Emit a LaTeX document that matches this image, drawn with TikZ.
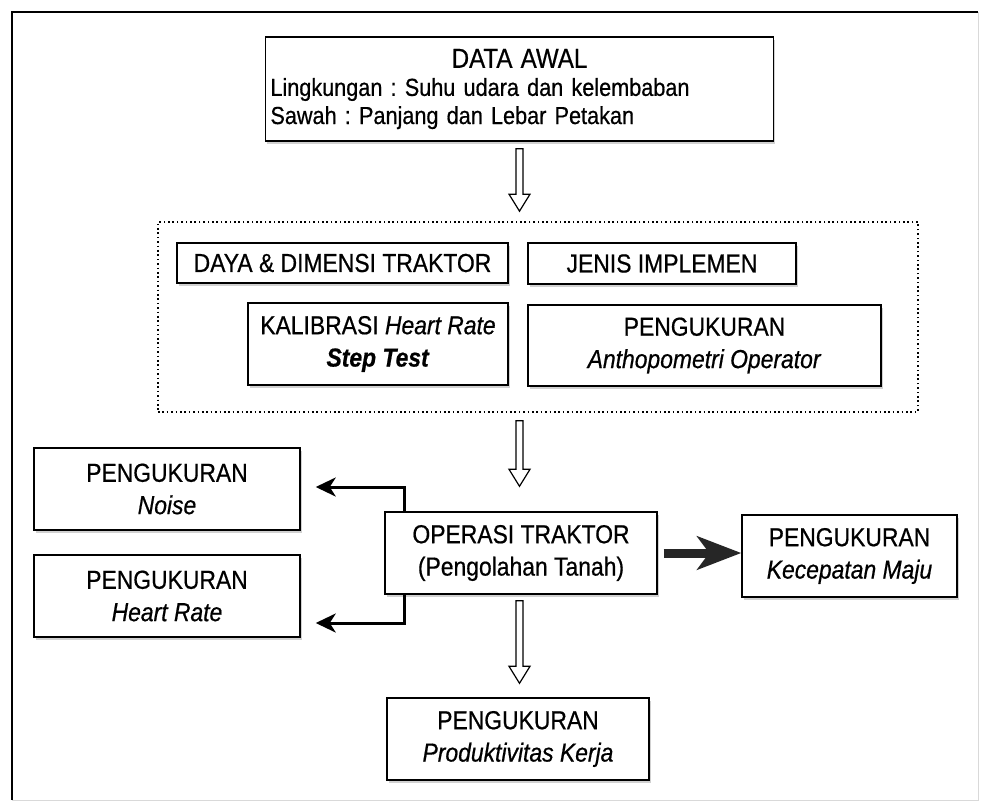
\documentclass[tikz,border=0pt]{standalone}
\usepackage{fontspec}
\setmainfont{Liberation Sans}[FakeStretch=0.88, FakeBold=0.6]
\usetikzlibrary{calc,arrows.meta,shadows}
\frenchspacing
\def\hollowarrow(#1)(#2){\draw[line width=0.3mm, fill=white] ($(#1)+(-3.5,0)$) -- ($(#2)+(-3.5,-17)$) -- ($(#2)+(-10.5,-17)$) -- (#2) -- ($(#2)+(10.5,-17)$) -- ($(#2)+(3.5,-17)$) -- ($(#1)+(3.5,0)$) -- cycle;}
\tikzset{
	flowbox/.style={draw, line width=0.35mm, fill=white, align=center, font=\fontsize{18.5}{23}\selectfont, drop shadow={shadow xshift=0.4mm, shadow yshift=-0.8mm, fill=black!18, opacity=1}},
	linkarrow/.style={line width=0.75mm, -{Stealth[length=5mm, width=4.75mm, inset=1.5mm]}},
}

\begin{document}
\begin{tikzpicture}[x=0.025cm, y=-0.025cm]
		%%%%% START %%%%%
		\useasboundingbox (0, 0) rectangle (981, 804);
		\draw[line width=0.2mm, color=black!15] (12, 12) rectangle (978, 800);
		\draw[line width=0.5mm] (978, 12) -- (12, 12) -- (12, 800);
		
		\node[flowbox, text width=12.45cm, align=left, minimum height=2.6cm, font=\fontsize{17.5}{20}\selectfont] (data) at (519.5, 89) {\makebox[\linewidth]{\fontsize{19.5}{20}\selectfont DATA AWAL}\\Lingkungan : Suhu udara dan kelembaban\\Sawah : Panjang dan Lebar Petakan};
		
		\node[draw, line width=0.4mm, dash pattern=on 0.4mm off 0.7mm, minimum width=19cm, minimum height=4.75cm] (group) at (538, 317) {};
		\node[flowbox, minimum width=8.275cm, minimum height=1cm] (daya) at (342.5, 263) {DAYA \& DIMENSI TRAKTOR};
		\node[flowbox, minimum width=6.7cm, minimum height=1.025cm] (jenis) at (662, 263.5) {JENIS IMPLEMEN};
		\node[flowbox, minimum width=6.5cm, minimum height=2.05cm] (kalibrasi) at (378, 344) {KALIBRASI \textit{Heart Rate}\\\textbf{\textit{Step Test}}};
		\node[flowbox, minimum width=8.825cm, minimum height=2.025cm] (anthopometri) at (704.5, 345.5) {PENGUKURAN\\\textit{Anthopometri Operator}};
		
		\node[flowbox, minimum width=6.8cm, minimum height=2.05cm] (operasi) at (521, 553) {OPERASI TRAKTOR\\(Pengolahan Tanah)};
		\node[flowbox, minimum width=6.65cm, minimum height=2.05cm] (noise) at (167, 489) {PENGUKURAN\\\textit{Noise}};
		\node[flowbox, minimum width=6.65cm, minimum height=2.05cm] (heart) at (167, 596) {PENGUKURAN\\\textit{Heart Rate}};
		\node[flowbox, minimum width=5.375cm, minimum height=2.05cm] (maju) at (849.5, 556) {PENGUKURAN\\\textit{Kecepatan Maju}};
		\node[flowbox, minimum width=6.55cm, minimum height=2.05cm] (produk) at (518, 739) {PENGUKURAN\\\textit{Produktivitas Kerja}};
		
		\coordinate (arr1top) at ($(data.south)+(0, 7)$);
		\coordinate (arr1tip) at ($(arr1top |- group.north)+(0, -10)$);
		\coordinate (arr2top) at ($(arr1top |- group.south)+(0, 8)$);
		\coordinate (arr2tip) at ($(arr1top |- operasi.north)+(0, -25)$);
		\coordinate (arr3top) at ($(arr1top |- operasi.south)+(0, 6)$);
		\coordinate (arr3tip) at ($(arr1top |- produk.north)+(0, -14)$);
		\hollowarrow(arr1top)(arr1tip)
		\hollowarrow(arr2top)(arr2tip)
		\hollowarrow(arr3top)(arr3tip)
		
		\coordinate (noisein) at ($(noise.east)+(15, -2)$);
		\coordinate (heartin) at ($(heart.east)+(15, 27)$);
		\draw[linkarrow] ($(operasi.north west)+(20, 0)$) |- (noisein);
		\draw[linkarrow] ($(operasi.south west)+(20, 0)$) |- (heartin);
		
		\draw[line width=2.25mm, color=black!85, -{Stealth[length=11mm, width=8.3mm, inset=3mm]}] ($(operasi.east)+(6, 0)$) -- (maju.west |- operasi.east);
		
		%%%%% END %%%%%
	\end{tikzpicture}
\end{document}
